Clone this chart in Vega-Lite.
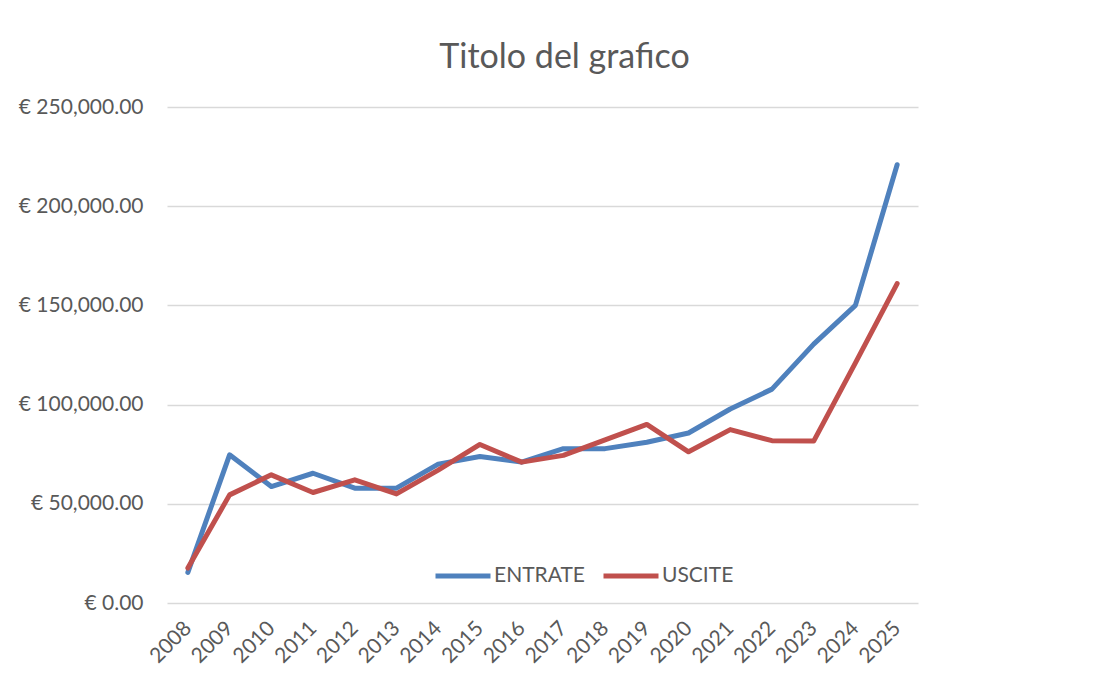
{
  "$schema": "https://vega.github.io/schema/vega-lite/v6.json",
  "width": 751,
  "height": 496,
  "autosize": {"type": "none"},
  "padding": {"left": 167, "top": 107, "right": 192, "bottom": 74},
  "background": "white",
  "config": {"view": {"stroke": null}, "font": "Lato"},
  "title": {
    "text": "Titolo del grafico",
    "fontSize": 34,
    "font": "Lato",
    "fontWeight": "normal",
    "color": "#595959",
    "anchor": "middle",
    "dx": 22,
    "offset": 21
  },
  "data": {
    "values": [
      {"year": "2008", "serie": "ENTRATE", "value": 15400},
      {"year": "2009", "serie": "ENTRATE", "value": 74700},
      {"year": "2010", "serie": "ENTRATE", "value": 58700},
      {"year": "2011", "serie": "ENTRATE", "value": 65400},
      {"year": "2012", "serie": "ENTRATE", "value": 57900},
      {"year": "2013", "serie": "ENTRATE", "value": 57900},
      {"year": "2014", "serie": "ENTRATE", "value": 70000},
      {"year": "2015", "serie": "ENTRATE", "value": 73800},
      {"year": "2016", "serie": "ENTRATE", "value": 71000},
      {"year": "2017", "serie": "ENTRATE", "value": 77800},
      {"year": "2018", "serie": "ENTRATE", "value": 77800},
      {"year": "2019", "serie": "ENTRATE", "value": 81000},
      {"year": "2020", "serie": "ENTRATE", "value": 85700},
      {"year": "2021", "serie": "ENTRATE", "value": 97800},
      {"year": "2022", "serie": "ENTRATE", "value": 107800},
      {"year": "2023", "serie": "ENTRATE", "value": 130500},
      {"year": "2024", "serie": "ENTRATE", "value": 150000},
      {"year": "2025", "serie": "ENTRATE", "value": 220900},
      {"year": "2008", "serie": "USCITE", "value": 17600},
      {"year": "2009", "serie": "USCITE", "value": 54500},
      {"year": "2010", "serie": "USCITE", "value": 64600},
      {"year": "2011", "serie": "USCITE", "value": 55700},
      {"year": "2012", "serie": "USCITE", "value": 62100},
      {"year": "2013", "serie": "USCITE", "value": 55000},
      {"year": "2014", "serie": "USCITE", "value": 67000},
      {"year": "2015", "serie": "USCITE", "value": 79900},
      {"year": "2016", "serie": "USCITE", "value": 71000},
      {"year": "2017", "serie": "USCITE", "value": 74400},
      {"year": "2018", "serie": "USCITE", "value": 82200},
      {"year": "2019", "serie": "USCITE", "value": 90000},
      {"year": "2020", "serie": "USCITE", "value": 76200},
      {"year": "2021", "serie": "USCITE", "value": 87400},
      {"year": "2022", "serie": "USCITE", "value": 81800},
      {"year": "2023", "serie": "USCITE", "value": 81600},
      {"year": "2024", "serie": "USCITE", "value": 121000},
      {"year": "2025", "serie": "USCITE", "value": 161000}
    ]
  },
  "mark": {"type": "line", "strokeWidth": 5, "strokeCap": "round", "strokeJoin": "round"},
  "encoding": {
    "x": {
      "field": "year",
      "type": "ordinal",
      "scale": {"type": "point", "padding": 0.5},
      "axis": {
        "title": null,
        "domain": false,
        "ticks": false,
        "grid": false,
        "labelAngle": -45,
        "labelAlign": "right",
        "labelBaseline": "middle",
        "labelPadding": 22,
        "labelFontSize": 21,
        "labelFont": "Lato",
        "labelColor": "#595959"
      }
    },
    "y": {
      "field": "value",
      "type": "quantitative",
      "scale": {"domain": [0, 250000], "nice": false},
      "axis": {
        "title": null,
        "values": [0, 50000, 100000, 150000, 200000, 250000],
        "labelExpr": "'€ ' + format(datum.value, ',.2f')",
        "domain": false,
        "ticks": false,
        "grid": true,
        "gridColor": "#D9D9D9",
        "gridWidth": 1.5,
        "labelPadding": 24,
        "labelFontSize": 21,
        "labelFont": "Lato",
        "labelColor": "#595959"
      }
    },
    "color": {
      "field": "serie",
      "type": "nominal",
      "scale": {"domain": ["ENTRATE", "USCITE"], "range": ["#4F81BD", "#C0504D"]},
      "legend": {
        "title": null,
        "orient": "none",
        "direction": "horizontal",
        "legendX": 266,
        "legendY": 439,
        "symbolType": "stroke",
        "symbolSize": 3025,
        "symbolStrokeWidth": 5,
        "labelFontSize": 21,
        "labelFont": "Lato",
        "labelColor": "#595959",
        "labelOffset": 1,
        "columnPadding": 8
      }
    }
  }
}
